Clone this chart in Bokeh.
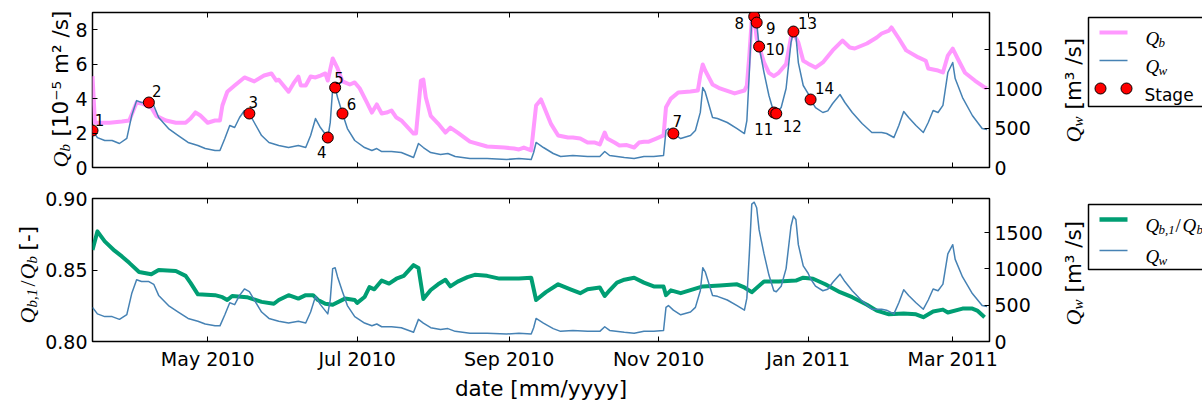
import pandas as pd
from bokeh.plotting import figure
from bokeh.models import (Range1d, LinearAxis, DatetimeAxis, FixedTicker,
                          DatetimeTickFormatter, NumeralTickFormatter)
from bokeh.layouts import column, row
from bokeh.embed import file_html
from bokeh.resources import INLINE
from bokeh.core.properties import value

# ---------------- data ----------------
START = pd.Timestamp("2010-03-15")
END = pd.Timestamp("2011-03-16")

# water discharge Qw [m3/s], days since START
qw_day = [0, 2, 5, 8, 11, 14, 16, 18, 20, 23, 25, 27, 31, 35, 39, 43, 46, 50, 52, 54,
          56, 58, 60, 62, 64, 66, 69, 72, 76, 80, 84, 87, 89, 91, 93, 96, 97, 98, 99, 100,
          102, 104, 107, 111, 114, 116, 118, 122, 126, 131, 133, 135, 138, 142, 145, 148, 154, 161, 169, 174,
          179, 180, 181, 184, 188, 191, 196, 202, 207, 209, 211, 217, 221, 225, 229, 233, 234, 235, 237, 240,
          244, 246, 248, 249, 250, 253, 255, 259, 263, 266, 267, 268, 269, 270, 271, 272, 274, 276, 278, 279,
          281, 283, 285, 286, 287, 288, 290, 292, 293, 295, 298, 300, 302, 305, 307, 310, 314, 318, 322, 324,
          327, 329, 331, 333, 336, 339, 341, 343, 345, 347, 349, 351, 352, 355, 359, 363, 365]
qw_val = [470, 380, 343, 343, 305, 370, 660, 850, 826, 826, 788, 635, 495, 406, 318, 280, 241, 216, 216, 368,
          534, 508, 635, 724, 686, 572, 406, 318, 280, 254, 280, 254, 406, 622, 508, 381, 570, 1004, 1016, 890,
          686, 495, 343, 254, 216, 241, 203, 203, 190, 127, 305, 254, 190, 165, 178, 140, 114, 114, 102, 114,
          102, 190, 318, 254, 178, 140, 152, 140, 140, 203, 152, 127, 114, 140, 140, 152, 470, 495, 432, 368,
          406, 470, 700, 1016, 960, 635, 622, 572, 495, 432, 597, 1207, 1893, 1919, 1842, 1537, 1207, 915, 699, 686,
          762, 1004, 1588, 1728, 1680, 1334, 1042, 940, 864, 762, 699, 720, 813, 928, 826, 699, 559, 445, 445, 432,
          381, 534, 712, 635, 534, 445, 572, 724, 699, 790, 1207, 1334, 1131, 889, 661, 495, 483]

# bedload Qb [1e-5 m2/s]
qb_day = [0, 1, 7, 12, 15, 18, 20, 24, 26, 30, 34, 38, 40, 42, 44, 47, 50, 52, 53, 55,
          58, 62, 66, 70, 73, 75, 76, 80, 82, 84, 85, 87, 89, 91, 93, 95, 96, 98, 100, 102,
          105, 107, 109, 112, 114, 116, 118, 120, 122, 124, 126, 131, 132, 134, 135, 136, 138, 141, 144, 146,
          149, 154, 161, 168, 172, 174, 176, 179, 181, 183, 184, 187, 190, 194, 196, 199, 202, 205, 207, 209,
          210, 213, 215, 218, 221, 223, 225, 227, 230, 233, 234, 236, 239, 244, 247, 248, 249, 250, 253, 256,
          262, 266, 267, 268, 269, 270, 271, 272, 274, 276, 278, 280, 283, 285, 286, 288, 290, 292, 295, 298,
          302, 306, 309, 311, 316, 320, 322, 325, 326, 329, 332, 337, 340, 341, 345, 347, 349, 351, 353, 356,
          360, 364, 365]
qb_val = [5.3, 2.6, 2.6, 2.67, 2.73, 3.77, 3.72, 3.48, 3.0, 2.73, 2.6, 2.6, 2.84, 3.2, 3.02, 2.6, 2.73, 2.73, 3.6, 4.4,
          4.76, 5.23, 5.0, 5.34, 5.46, 5.05, 5.1, 4.4, 4.88, 5.28, 4.76, 4.76, 5.28, 5.23, 5.34, 5.46, 5.05, 6.33, 5.75, 5.0,
          4.82, 4.94, 4.6, 3.77, 3.19, 3.66, 3.14, 3.19, 3.31, 2.9, 2.73, 1.97, 1.97, 5.05, 5.1, 4.07, 3.0, 2.55, 2.03, 2.32,
          2.03, 1.5, 1.22, 1.16, 1.1, 1.05, 1.16, 0.99, 3.6, 3.95, 3.6, 2.55, 1.86, 1.74, 1.74, 1.68, 1.45, 1.45, 1.34, 2.03,
          1.68, 1.45, 1.28, 1.3, 1.16, 1.45, 1.5, 1.5, 1.68, 1.86, 3.5, 4.0, 4.36, 4.41, 4.47, 5.34, 5.98, 5.63, 4.82, 4.59,
          4.3, 4.47, 4.76, 6.5, 8.6, 8.8, 7.5, 7.0, 6.1, 5.5, 5.3, 5.5, 6.0, 7.55, 7.8, 7.26, 6.2, 6.03, 5.8, 6.1,
          6.8, 7.37, 6.97, 6.91, 7.2, 7.55, 7.78, 7.95, 8.13, 7.49, 6.8, 6.39, 6.2, 5.75, 5.63, 5.52, 6.5, 6.9, 6.33, 5.5,
          5.05, 4.65, 4.6]

# ratio Qb,1/Qb [-]
ratio_day = [0, 2, 5, 9, 12, 15, 19, 24, 27, 34, 38, 40, 43, 50, 53, 55, 57, 63, 69, 74,
             76, 80, 84, 87, 90, 92, 95, 98, 103, 107, 108, 111, 113, 115, 118, 121, 124, 127, 131, 133,
             135, 138, 141, 144, 146, 149, 153, 156, 161, 166, 174, 179, 181, 185, 190, 195, 199, 202, 207, 209,
             211, 214, 217, 221, 225, 229, 233, 234, 236, 240, 245, 249, 256, 263, 266, 269, 274, 280, 287, 290,
             294, 299, 305, 310, 316, 320, 325, 331, 336, 339, 343, 347, 349, 355, 359, 361, 364]
ratio_val = [0.864, 0.877, 0.870, 0.8635, 0.8595, 0.855, 0.8486, 0.847, 0.850, 0.8493, 0.8459, 0.841, 0.833, 0.8324, 0.831, 0.829, 0.8318, 0.831, 0.8277, 0.8264,
             0.829, 0.8324, 0.830, 0.8324, 0.8324, 0.829, 0.8264, 0.8257, 0.830, 0.829, 0.827, 0.8311, 0.838, 0.8365, 0.8426, 0.8405, 0.8439, 0.8459, 0.8534, 0.8514,
             0.8297, 0.836, 0.840, 0.8432, 0.8385, 0.8419, 0.845, 0.8466, 0.8459, 0.844, 0.844, 0.8446, 0.829, 0.8345, 0.840, 0.8365, 0.8338, 0.8365, 0.8378, 0.8318,
             0.8358, 0.8412, 0.8432, 0.8446, 0.8412, 0.8385, 0.8385, 0.8324, 0.8358, 0.8338, 0.8365, 0.8385, 0.8392, 0.840, 0.8378, 0.8345, 0.842, 0.842, 0.8426, 0.8446,
             0.8439, 0.840, 0.8345, 0.831, 0.8257, 0.8216, 0.819, 0.8196, 0.819, 0.817, 0.821, 0.8223, 0.8203, 0.823, 0.823, 0.8216, 0.817]

stage_id = [str(i) for i in range(1, 15)]
stage_day = [0, 23, 64, 96, 99, 102, 237, 270, 271, 272, 278, 279, 286, 293]
stage_qw = [470, 826, 686, 381, 1016, 686, 432, 1919, 1842, 1537, 699, 686, 1728, 864]

xtick_dates = ["2010-05-01", "2010-07-01", "2010-09-01", "2010-11-01", "2011-01-01", "2011-03-01"]
qb_ticks = [0, 2, 4, 6, 8]
qw_ticks = [0, 500, 1000, 1500]
ratio_ticks = [0.80, 0.85, 0.90]

assert len(qw_day) == len(qw_val)
assert len(qb_day) == len(qb_val)
assert len(ratio_day) == len(ratio_val)

# ---------------- styling ----------------
PINK = "#ff99ff"
BLUE = "#4682b4"
GREEN = "#009e73"
FONT = "DejaVu Sans"
MATH = "Liberation Serif"
QW_MAX = 1970


def to_dt(days):
    return START + pd.to_timedelta(days, unit="D")


qw_x = to_dt(qw_day)
qb_x = to_dt(qb_day)
ratio_x = to_dt(ratio_day)
stage_x = to_dt(stage_day)

xticks_ms = [pd.Timestamp(d).value / 1e6 for d in xtick_dates]
fmt = "%b %Y"


def date_fmt():
    return DatetimeTickFormatter(days=fmt, months=fmt, years=fmt, hours=fmt,
                                 minutes=fmt, seconds=fmt, milliseconds=fmt,
                                 microseconds=fmt, minsec=fmt, hourmin=fmt)


x_range = Range1d(START, END)


def no_align(p):
    try:
        p.frame_align = False
    except Exception:
        pass


def style_axis(ax, labels=True):
    ax.major_tick_in = 5
    ax.major_tick_out = 0
    ax.minor_tick_in = 0
    ax.minor_tick_out = 0
    ax.axis_line_color = None
    ax.major_tick_line_color = "black"
    ax.major_tick_line_width = 1
    ax.major_label_text_font = FONT
    if labels:
        ax.major_label_text_color = "black"
        ax.major_label_text_font_size = "19px"
        ax.major_label_standoff = 5
    else:
        ax.major_label_text_color = None
        ax.major_label_text_font_size = "1px"
        ax.major_label_standoff = 0


def make_main(width, height, yr, left, top, bottom, left_ticks, left_fmt, xlabels):
    p = figure(width=width, height=height, x_range=x_range, y_range=yr,
               x_axis_type="datetime", x_axis_location=None, y_axis_location=None,
               toolbar_location=None, output_backend="svg", title=None,
               min_border_left=left, min_border_right=56,
               min_border_top=top, min_border_bottom=bottom)
    no_align(p)
    p.grid.visible = False
    p.extra_y_ranges = {"qw": Range1d(0, QW_MAX)}
    p.outline_line_color = "black"
    p.outline_line_width = 1.5
    p.background_fill_color = "white"
    p.border_fill_color = "white"

    below = DatetimeAxis(ticker=FixedTicker(ticks=xticks_ms), formatter=date_fmt())
    style_axis(below, labels=xlabels)
    p.add_layout(below, "below")
    above = DatetimeAxis(ticker=FixedTicker(ticks=xticks_ms), formatter=date_fmt())
    style_axis(above, labels=False)
    p.add_layout(above, "above")
    la = LinearAxis(ticker=FixedTicker(ticks=left_ticks))
    if left_fmt is not None:
        la.formatter = left_fmt
    style_axis(la)
    p.add_layout(la, "left")
    ra = LinearAxis(y_range_name="qw", ticker=FixedTicker(ticks=qw_ticks))
    style_axis(ra)
    p.add_layout(ra, "right")
    return p, below


# strips (frame = whole strip) in global pixel coordinates: x = px, y = -px
def make_strip(x0, w, y0, h):
    p = figure(width=w, height=h, x_range=Range1d(x0, x0 + w),
               y_range=Range1d(-(y0 + h), -y0), toolbar_location=None,
               output_backend="svg", min_border=0, title=None,
               x_axis_location=None, y_axis_location=None)
    no_align(p)
    p.grid.visible = False
    p.xgrid.grid_line_color = None
    p.ygrid.grid_line_color = None
    p.outline_line_color = None
    p.background_fill_color = "white"
    p.border_fill_color = "white"
    return p


def gtext(p, gx, gy, text, font, style, size, angle=0):
    p.text([gx], [-gy], text=[text], angle=angle, angle_units="deg",
           text_font=value(font), text_font_style=style, text_font_size=size,
           text_align="left", text_baseline="alphabetic", text_color="black")


def vtext(p, gx, gy, text, font, style, size):
    gtext(p, gx, gy, text, font, style, size, angle=90)


# ---------------- top row ----------------
p1, _ = make_main(973, 180, Range1d(0, 9), 20, 12, 13, qb_ticks, None, False)
p1.line(qb_x, qb_val, color=PINK, line_width=4, line_join="round")
p1.line(qw_x, qw_val, color=BLUE, line_width=1.5, line_join="round", y_range_name="qw")
p1.scatter(stage_x, stage_qw, size=11, fill_color="red", line_color="black",
           line_width=1, y_range_name="qw")
lab_dx = [7, 8, 4, -6, 4, 9, 4, -15, 14, 16, -10, 16, 14, 14]
lab_dy = [-11, -12, -12, 14, -10, -10, -13, 6, 5, 2, 16, 12, -9, -12]
p1.text(stage_x, stage_qw, text=stage_id, x_offset=lab_dx, y_offset=lab_dy,
        y_range_name="qw", text_font=value(FONT), text_font_size="15px",
        text_align="center", text_baseline="middle", text_color="black")

L1 = make_strip(0, 72, 0, 180)
vtext(L1, 60, 167, "Q", MATH, "italic", "22px")
vtext(L1, 64, 151, "b", MATH, "italic", "15px")
vtext(L1, 60, 136, "[10\u207b\u2075 m\u00b2 /s]", FONT, "normal", "21.5px")

R1 = make_strip(1045, 157, 0, 180)
vtext(R1, 1073, 142, "Q", MATH, "italic", "22px")
vtext(R1, 1077, 126, "w", MATH, "italic", "15px")
vtext(R1, 1073, 109, "[m\u00b3 /s]", FONT, "normal", "21.5px")
R1.quad(left=1088, right=1260, top=-17, bottom=-106, fill_color=None,
        line_color="black", line_width=1.5)
R1.line([1099, 1127], [-32, -32], color=PINK, line_width=4)
R1.line([1099, 1127], [-60, -60], color=BLUE, line_width=1.5)
R1.scatter([1100, 1126], [-88, -88], size=11, fill_color="red", line_color="black", line_width=1)
gtext(R1, 1145, 38, "Q", MATH, "italic", "19px")
gtext(R1, 1158, 42, "b", MATH, "italic", "13px")
gtext(R1, 1145, 66, "Q", MATH, "italic", "19px")
gtext(R1, 1158, 70, "w", MATH, "italic", "13px")
gtext(R1, 1144, 94, "Stage", FONT, "normal", "17px")

# ---------------- bottom row ----------------
p2, below2 = make_main(1005, 223, Range1d(0.80, 0.90), 52, 18, 57, ratio_ticks,
                       NumeralTickFormatter(format="0.00"), True)
below2.major_label_standoff = 6
below2.axis_label = "date [mm/yyyy]"
below2.axis_label_text_font = FONT
below2.axis_label_text_font_size = "21.5px"
below2.axis_label_text_font_style = "normal"
below2.axis_label_text_color = "black"
below2.axis_label_standoff = 3
p2.line(ratio_x, ratio_val, color=GREEN, line_width=4, line_join="round")
p2.line(qw_x, qw_val, color=BLUE, line_width=1.5, line_join="round", y_range_name="qw")

L2 = make_strip(0, 40, 180, 223)
vtext(L2, 27, 323, "Q", MATH, "italic", "22px")
vtext(L2, 31, 307, "b,1", MATH, "italic", "15px")
vtext(L2, 27, 286, "/", MATH, "normal", "22px")
vtext(L2, 27, 279, "Q", MATH, "italic", "22px")
vtext(L2, 31, 263, "b", MATH, "italic", "15px")
vtext(L2, 27, 250, "[-]", FONT, "normal", "21.5px")

R2 = make_strip(1045, 157, 180, 223)
vtext(R2, 1073, 325, "Q", MATH, "italic", "22px")
vtext(R2, 1077, 309, "w", MATH, "italic", "15px")
vtext(R2, 1073, 292, "[m\u00b3 /s]", FONT, "normal", "21.5px")
R2.quad(left=1088, right=1260, top=-204, bottom=-269, fill_color=None,
        line_color="black", line_width=1.5)
R2.line([1099, 1127], [-219, -219], color=GREEN, line_width=4.5)
R2.line([1099, 1127], [-250, -250], color=BLUE, line_width=1.5)
gtext(R2, 1145, 225, "Q", MATH, "italic", "19px")
gtext(R2, 1158, 229, "b,1", MATH, "italic", "13px")
gtext(R2, 1175, 225, "/", MATH, "normal", "19px")
gtext(R2, 1182, 225, "Q", MATH, "italic", "19px")
gtext(R2, 1196, 229, "b", MATH, "italic", "13px")
gtext(R2, 1145, 256, "Q", MATH, "italic", "19px")
gtext(R2, 1158, 260, "w", MATH, "italic", "13px")

layout = column(row(L1, p1, R1), row(L2, p2, R2))
open("out.html", "w").write(file_html(layout, INLINE))
